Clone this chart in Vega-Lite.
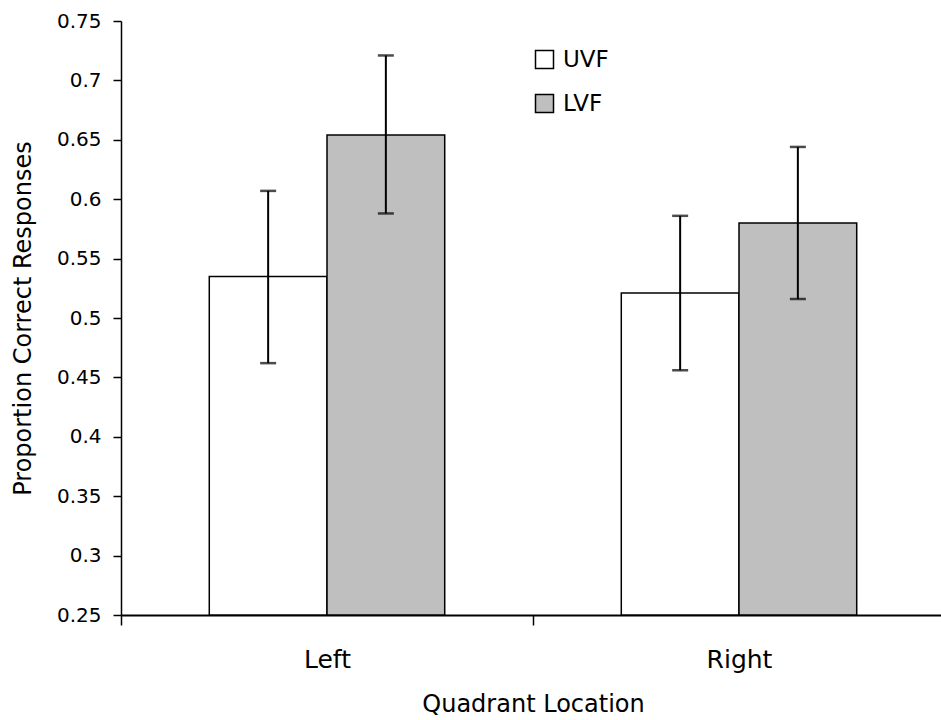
{
  "$schema": "https://vega.github.io/schema/vega-lite/v6.json",
  "width": 820,
  "height": 594,
  "autosize": {"type": "none"},
  "padding": {"left": 121, "top": 21, "right": 0, "bottom": 105},
  "background": "white",
  "config": {
    "view": {"stroke": null},
    "font": "DejaVu Sans",
    "axis": {"domainColor": "black", "tickColor": "black", "labelColor": "black", "titleColor": "black", "titleFontWeight": "normal", "grid": false}
  },
  "data": {
    "values": [
      {"quadrant": "Left", "field": "UVF", "mean": 0.535, "lo": 0.462, "hi": 0.607},
      {"quadrant": "Left", "field": "LVF", "mean": 0.654, "lo": 0.588, "hi": 0.721},
      {"quadrant": "Right", "field": "UVF", "mean": 0.521, "lo": 0.456, "hi": 0.586},
      {"quadrant": "Right", "field": "LVF", "mean": 0.58, "lo": 0.516, "hi": 0.644}
    ]
  },
  "encoding": {
    "x": {
      "field": "quadrant", "type": "nominal", "sort": ["Left", "Right"],
      "scale": {"paddingInner": 0, "paddingOuter": 0, "range": [0, 824]},
      "axis": {"title": "Quadrant Location", "labelAngle": 0, "tickBand": "extent", "tickSize": 10, "labelPadding": 22, "labelFontSize": 25, "titleFontSize": 24, "titlePadding": 20, "domainWidth": 2, "tickWidth": 1.5}
    },
    "xOffset": {"field": "field", "type": "nominal", "sort": ["UVF", "LVF"], "scale": {"paddingInner": 0, "paddingOuter": 0.75}}
  },
  "layer": [
    {
      "mark": {"type": "bar", "stroke": "black", "strokeWidth": 1.5},
      "encoding": {
        "y": {
          "field": "mean", "type": "quantitative", "title": "Proportion Correct Responses",
          "scale": {"domain": [0.25, 0.75], "zero": false, "nice": false},
          "axis": {"values": [0.25, 0.3, 0.35, 0.4, 0.45, 0.5, 0.55, 0.6, 0.65, 0.7, 0.75], "format": ".2~f", "tickSize": 8, "labelPadding": 12, "labelFontSize": 20, "titleFontSize": 24, "titlePadding": 21, "domainWidth": 1.5, "tickWidth": 1.5}
        },
        "y2": {"datum": 0.25},
        "color": {
          "field": "field", "type": "nominal", "sort": ["UVF", "LVF"],
          "scale": {"domain": ["UVF", "LVF"], "range": ["white", "#bfbfbf"]},
          "legend": {"title": null, "orient": "none", "legendX": 412, "legendY": 27, "symbolType": "square", "symbolSize": 324, "symbolStrokeColor": "black", "symbolStrokeWidth": 1.5, "symbolOpacity": 1, "labelFontSize": 23, "labelColor": "black", "labelOffset": 7, "rowPadding": 19, "padding": 0}
        }
      }
    },
    {
      "mark": {"type": "rule", "strokeWidth": 2, "color": "black"},
      "encoding": {
        "y": {"field": "lo", "type": "quantitative", "title": "Proportion Correct Responses"},
        "y2": {"field": "hi"}
      }
    },
    {
      "mark": {"type": "tick", "size": 16, "thickness": 2.5, "color": "black"},
      "encoding": {"y": {"field": "lo", "type": "quantitative", "title": "Proportion Correct Responses"}}
    },
    {
      "mark": {"type": "tick", "size": 16, "thickness": 2.5, "color": "black"},
      "encoding": {"y": {"field": "hi", "type": "quantitative", "title": "Proportion Correct Responses"}}
    }
  ]
}
